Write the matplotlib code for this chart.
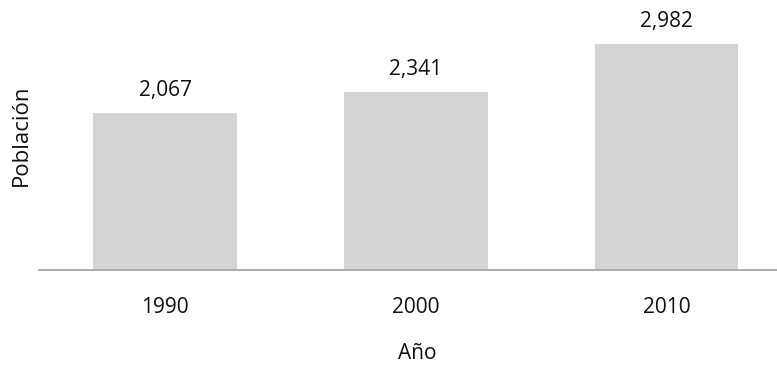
import matplotlib.pyplot as plt
import numpy as np

plt.rcParams['font.family'] = ['Open Sans', 'DejaVu Sans']

years = ["1990", "2000", "2010"]
population = [2067, 2341, 2982]
value_labels = ["2,067", "2,341", "2,982"]

W, H = 777, 365
fig = plt.figure(figsize=(W / 100, H / 100), dpi=100)
# axes placed in pixel terms: left at x=39, baseline at y=269.5, top of figure
ax = fig.add_axes([39 / W, (H - 269.5) / H, 1 - 39 / W, 269.5 / H])

x = np.arange(len(years))
bars = ax.bar(x, population, width=0.572, color="#d3d4d6", zorder=2)

for b, lab in zip(bars, value_labels):
    ax.annotate(lab, (b.get_x() + b.get_width() / 2, b.get_height()),
                xytext=(0, 8.5), textcoords="offset points",
                ha="center", va="bottom", fontsize=15, color="#111111")

ax.set_xlim(-0.5025, 2.44)
ax.set_ylim(0, 3560)
ax.set_xticks(x)
ax.set_xticklabels(years, fontsize=15, color="#111111")
ax.tick_params(axis="x", length=0, pad=20)
ax.set_yticks([])

for s in ["top", "right", "left"]:
    ax.spines[s].set_visible(False)
ax.spines["bottom"].set_color("#a6a6a6")
ax.spines["bottom"].set_linewidth(1.3)

ax.set_xlabel("Año", fontsize=15, color="#111111")
ax.xaxis.set_label_coords((417 - 39) / 738, -0.272)
ax.set_ylabel("Población", fontsize=16, color="#111111", labelpad=5)

fig.savefig("out.png", dpi=100)
